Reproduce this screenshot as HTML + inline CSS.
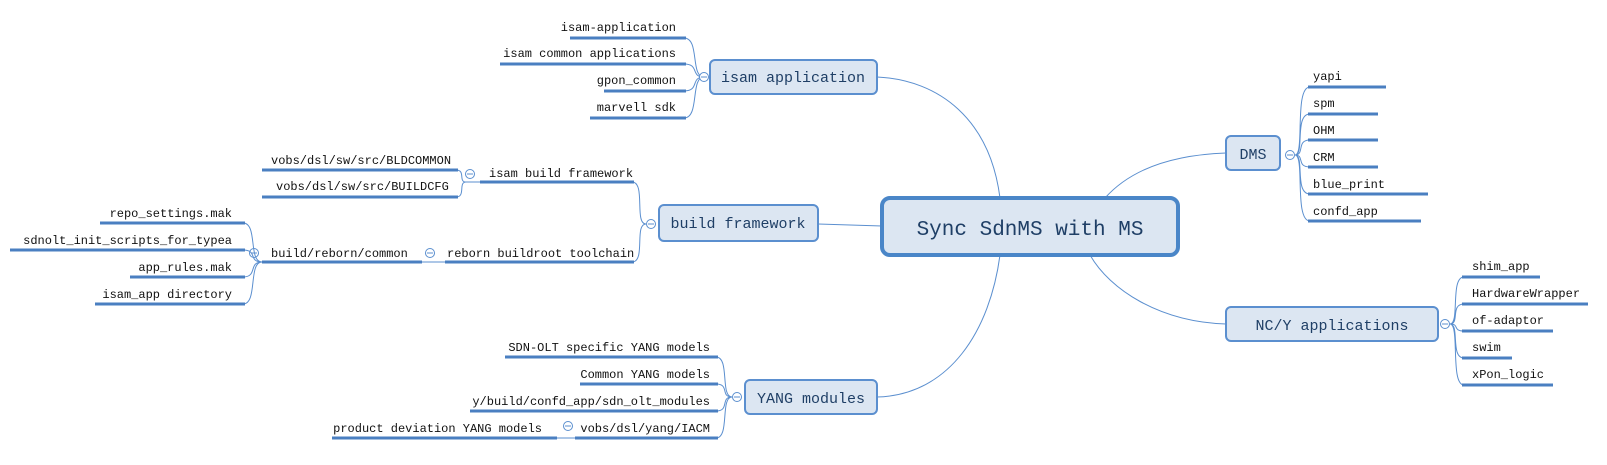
<!DOCTYPE html>
<html><head><meta charset="utf-8"><style>
html,body{margin:0;padding:0;background:#fff;}
svg{display:block;}
text{font-family:"Liberation Mono","Noto Serif CJK SC",monospace;fill:#111;}
.l{font-size:12px;}
.u{stroke:#4a7fc1;stroke-width:3;}
.c{fill:none;stroke:#5b8fcf;stroke-width:1;}
.b{fill:#dce6f2;stroke:#5b8fcf;stroke-width:2;}
.o{fill:#fff;stroke:#5b8fcf;stroke-width:1;}
.bt{font-size:15px;fill:#1f3f66;}
</style></head><body>
<svg width="1607" height="465" viewBox="0 0 1607 465">
<!-- center connectors -->
<path class="c" d="M1000,198 C990,120 940,80 877,77"/>
<path class="c" d="M882,226 L818,224"/>
<path class="c" d="M1000,255 C990,330 950,395 877,397"/>
<path class="c" d="M1105,198 C1130,170 1170,155 1226,153"/>
<path class="c" d="M1090,255 C1110,290 1160,322 1226,324"/>

<!-- central -->
<rect x="882" y="198" width="296" height="57" rx="8" fill="#dce6f2" stroke="#4a86c8" stroke-width="4"/>
<text x="1030" y="235" text-anchor="middle" style="font-size:21px;fill:#1f3f66">Sync SdnMS with MS</text>

<!-- isam application -->
<rect class="b" x="710" y="60" width="167" height="34" rx="5"/>
<text class="bt" x="793" y="82" text-anchor="middle">isam application</text>
<path class="c" d="M704,77 C690,77 700,38 684,38 M704,77 C690,77 700,64 684,64 M704,77 C690,77 700,91 684,91 M704,77 C690,77 700,118 684,118"/>
<circle class="o" cx="704" cy="77" r="4.5"/><line x1="701" y1="77" x2="707" y2="77" stroke="#5b8fcf"/>
<line class="u" x1="570" y1="38" x2="686" y2="38"/><text class="l" x="676" y="31" text-anchor="end">isam-application</text>
<line class="u" x1="500" y1="64" x2="686" y2="64"/><text class="l" x="676" y="57" text-anchor="end">isam common applications</text>
<line class="u" x1="604" y1="91" x2="686" y2="91"/><text class="l" x="676" y="84" text-anchor="end">gpon_common</text>
<line class="u" x1="590" y1="118" x2="686" y2="118"/><text class="l" x="676" y="111" text-anchor="end">marvell sdk</text>

<!-- build framework -->
<rect class="b" x="659" y="205" width="159" height="36" rx="5"/>
<text class="bt" x="738" y="228" text-anchor="middle">build framework</text>
<circle class="o" cx="651" cy="224" r="4.5"/><line x1="648" y1="224" x2="654" y2="224" stroke="#5b8fcf"/>
<path class="c" d="M646,224 C634,224 646,182 632,182 M646,224 C634,224 646,262 632,262"/>
<line class="u" x1="480" y1="182" x2="634" y2="182"/><text class="l" x="489" y="177">isam build framework</text>
<line class="u" x1="445" y1="262" x2="634" y2="262"/><text class="l" x="447" y="257">reborn buildroot toolchain</text>
<circle class="o" cx="470" cy="174" r="4.5"/><line x1="467" y1="174" x2="473" y2="174" stroke="#5b8fcf"/>
<path class="c" d="M480,182 L466,182 C458,182 466,170 456,170 M466,182 C458,182 466,197 456,197"/>
<line class="u" x1="262" y1="170" x2="458" y2="170"/><text class="l" x="271" y="164">vobs/dsl/sw/src/BLDCOMMON</text>
<line class="u" x1="262" y1="197" x2="458" y2="197"/><text class="l" x="276" y="190">vobs/dsl/sw/src/BUILDCFG</text>
<circle class="o" cx="430" cy="253" r="4.5"/><line x1="427" y1="253" x2="433" y2="253" stroke="#5b8fcf"/>
<path class="c" d="M445,262 L420,262"/>
<line class="u" x1="262" y1="262" x2="422" y2="262"/><text class="l" x="271" y="257">build/reborn/common</text>
<circle class="o" cx="254" cy="253" r="4.5"/><line x1="251" y1="253" x2="257" y2="253" stroke="#5b8fcf"/>
<path class="c" d="M262,262 C248,262 258,223 243,223 M262,262 C248,262 258,250 243,250 M262,262 C248,262 258,277 243,277 M262,262 C248,262 258,304 243,304"/>
<line class="u" x1="100" y1="223" x2="245" y2="223"/><text class="l" x="232" y="217" text-anchor="end">repo_settings.mak</text>
<line class="u" x1="10" y1="250" x2="245" y2="250"/><text class="l" x="232" y="244" text-anchor="end">sdnolt_init_scripts_for_typea</text>
<line class="u" x1="130" y1="277" x2="245" y2="277"/><text class="l" x="232" y="271" text-anchor="end">app_rules.mak</text>
<line class="u" x1="95" y1="304" x2="245" y2="304"/><text class="l" x="232" y="298" text-anchor="end">isam_app directory</text>

<!-- YANG modules -->
<rect class="b" x="745" y="380" width="132" height="34" rx="5"/>
<text class="bt" x="811" y="403" text-anchor="middle">YANG modules</text>
<circle class="o" cx="737" cy="397" r="4.5"/><line x1="734" y1="397" x2="740" y2="397" stroke="#5b8fcf"/>
<path class="c" d="M732,397 C720,397 730,357 716,357 M732,397 C720,397 730,384 716,384 M732,397 C720,397 730,411 716,411 M732,397 C720,397 730,438 716,438"/>
<line class="u" x1="505" y1="357" x2="718" y2="357"/><text class="l" x="710" y="351" text-anchor="end">SDN-OLT specific YANG models</text>
<line class="u" x1="580" y1="384" x2="718" y2="384"/><text class="l" x="710" y="378" text-anchor="end">Common YANG models</text>
<line class="u" x1="470" y1="411" x2="718" y2="411"/><text class="l" x="710" y="405" text-anchor="end">y/build/confd_app/sdn_olt_modules</text>
<line class="u" x1="575" y1="438" x2="718" y2="438"/><text class="l" x="710" y="432" text-anchor="end">vobs/dsl/yang/IACM</text>
<circle class="o" cx="568" cy="426" r="4.5"/><line x1="565" y1="426" x2="571" y2="426" stroke="#5b8fcf"/>
<line class="c" x1="555" y1="438" x2="575" y2="438"/>
<line class="u" x1="332" y1="438" x2="557" y2="438"/><text class="l" x="542" y="432" text-anchor="end">product deviation YANG models</text>

<!-- DMS -->
<rect class="b" x="1226" y="136" width="54" height="34" rx="5"/>
<text class="bt" x="1253" y="159" text-anchor="middle">DMS</text>
<circle class="o" cx="1290" cy="155" r="4.5"/><line x1="1287" y1="155" x2="1293" y2="155" stroke="#5b8fcf"/>
<path class="c" d="M1295,155 C1305,155 1294,87 1310,87 M1295,155 C1305,155 1294,114 1310,114 M1295,155 C1305,155 1296,140 1310,140 M1295,155 C1305,155 1296,167 1310,167 M1295,155 C1305,155 1294,194 1310,194 M1295,155 C1305,155 1294,221 1310,221"/>
<line class="u" x1="1308" y1="87" x2="1386" y2="87"/><text class="l" x="1313" y="80">yapi</text>
<line class="u" x1="1308" y1="114" x2="1378" y2="114"/><text class="l" x="1313" y="107">spm</text>
<line class="u" x1="1308" y1="140" x2="1378" y2="140"/><text class="l" x="1313" y="134">OHM</text>
<line class="u" x1="1308" y1="167" x2="1378" y2="167"/><text class="l" x="1313" y="161">CRM</text>
<line class="u" x1="1308" y1="194" x2="1428" y2="194"/><text class="l" x="1313" y="188">blue_print</text>
<line class="u" x1="1308" y1="221" x2="1421" y2="221"/><text class="l" x="1313" y="215">confd_app</text>

<!-- NC/Y -->
<rect class="b" x="1226" y="307" width="212" height="34" rx="5"/>
<text class="bt" x="1332" y="330" text-anchor="middle">NC/Y applications</text>
<circle class="o" cx="1445" cy="324" r="4.5"/><line x1="1442" y1="324" x2="1448" y2="324" stroke="#5b8fcf"/>
<path class="c" d="M1450,324 C1460,324 1450,277 1464,277 M1450,324 C1460,324 1450,304 1464,304 M1450,324 C1460,324 1452,331 1464,331 M1450,324 C1460,324 1450,358 1464,358 M1450,324 C1460,324 1450,385 1464,385"/>
<line class="u" x1="1462" y1="277" x2="1540" y2="277"/><text class="l" x="1472" y="270">shim_app</text>
<line class="u" x1="1462" y1="304" x2="1588" y2="304"/><text class="l" x="1472" y="297">HardwareWrapper</text>
<line class="u" x1="1462" y1="331" x2="1553" y2="331"/><text class="l" x="1472" y="324">of-adaptor</text>
<line class="u" x1="1462" y1="358" x2="1512" y2="358"/><text class="l" x="1472" y="351">swim</text>
<line class="u" x1="1462" y1="385" x2="1553" y2="385"/><text class="l" x="1472" y="378">xPon_logic</text>
</svg>
</body></html>
